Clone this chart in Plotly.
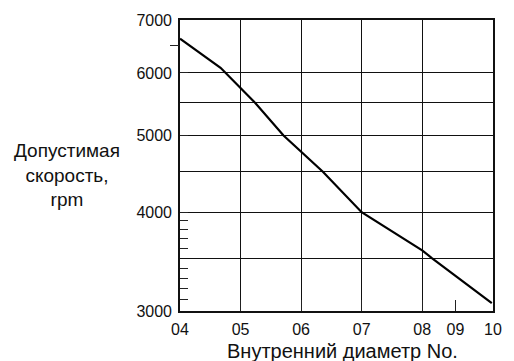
import plotly.graph_objects as go
import numpy as np

# Bore size numbers (x axis categories) and their positions on the chart's x scale
size_labels = ["04", "05", "06", "07", "08", "09", "10"]
size_pos = [0, 1, 2, 3, 4, 4.55, 5.17]

# Permissible speed curve (rpm)
curve_x = [0, 0.67, 1.24, 1.71, 2.36, 3.0, 4.0, 4.16, 5.15]
curve_rpm = [6630, 6090, 5500, 5000, 4500, 4000, 3580, 3500, 3070]

# Y axis labels and grid
y_labels = [3000, 4000, 5000, 6000, 7000]
y_grid = [3500, 4000, 4500, 5000, 5500, 6000]
y_minor_ticks = [3100, 3200, 3300, 3400, 3600, 3700, 3800, 3900]
y_outer_tick = [6500]

FONT = "Liberation Sans, Arial, sans-serif"
yr = [np.log10(3000), np.log10(7000)]
xr = [0, 5.17]

fig = go.Figure()
fig.add_trace(go.Scatter(x=curve_x, y=curve_rpm, mode="lines",
                         line=dict(color="black", width=2.2), showlegend=False,
                         hoverinfo="skip"))
fig.add_trace(go.Scatter(x=[curve_x[0]], y=[curve_rpm[0]], yaxis="y2", mode="markers",
                         marker=dict(opacity=0), showlegend=False, hoverinfo="skip"))

y_tickvals = y_labels + y_minor_ticks
y_ticktext = [str(v) for v in y_labels] + [""] * len(y_minor_ticks)

fig.update_layout(
    width=514, height=361,
    margin=dict(l=180, r=16, t=19, b=50),
    paper_bgcolor="white", plot_bgcolor="white",
    font=dict(family=FONT, size=16, color="#111"),
    xaxis=dict(range=xr, tickmode="array", tickvals=size_pos, ticktext=size_labels,
               ticks="inside", ticklen=11, tickwidth=1.3, tickcolor="#222",
               showgrid=False, zeroline=False, ticklabelstandoff=3,
               showline=True, linecolor="#111", linewidth=1.6, mirror=True,
               minor=dict(tickmode="array", tickvals=size_pos[1:5], showgrid=True,
                          gridcolor="#111", gridwidth=1.4, ticks=""),
               tickfont=dict(size=16)),
    yaxis=dict(type="log", range=yr, tickmode="array", tickvals=y_tickvals,
               ticktext=y_ticktext, ticks="inside", ticklen=8, tickwidth=1.3,
               tickcolor="#222", showgrid=False, zeroline=False, ticklabelstandoff=3,
               showline=True, linecolor="#111", linewidth=1.6, mirror=True,
               minor=dict(tickmode="array", tickvals=y_grid, showgrid=True,
                          gridcolor="#111", gridwidth=1.4, ticks=""),
               tickfont=dict(size=16)),
    yaxis2=dict(type="log", range=yr, overlaying="y", side="left", tickmode="array",
                tickvals=y_outer_tick, ticks="outside", ticklen=9, tickwidth=1.3,
                tickcolor="#222", showticklabels=False, showgrid=False,
                zeroline=False, showline=False),
    annotations=[
        dict(text="Допустимая<br>скорость,<br>rpm", xref="paper", yref="paper",
             x=-0.362, y=0.466, xanchor="center", yanchor="middle", showarrow=False,
             align="center", font=dict(size=19, family=FONT, color="#111")),
        dict(text="Внутренний диаметр No.", xref="paper", yref="paper",
             x=0.519, y=-0.137, xanchor="center", yanchor="middle", showarrow=False,
             font=dict(size=20, family=FONT, color="#111")),
    ],
)

fig.write_html("out.html", config={"displayModeBar": False},
               post_script="document.body.style.margin='0';")
